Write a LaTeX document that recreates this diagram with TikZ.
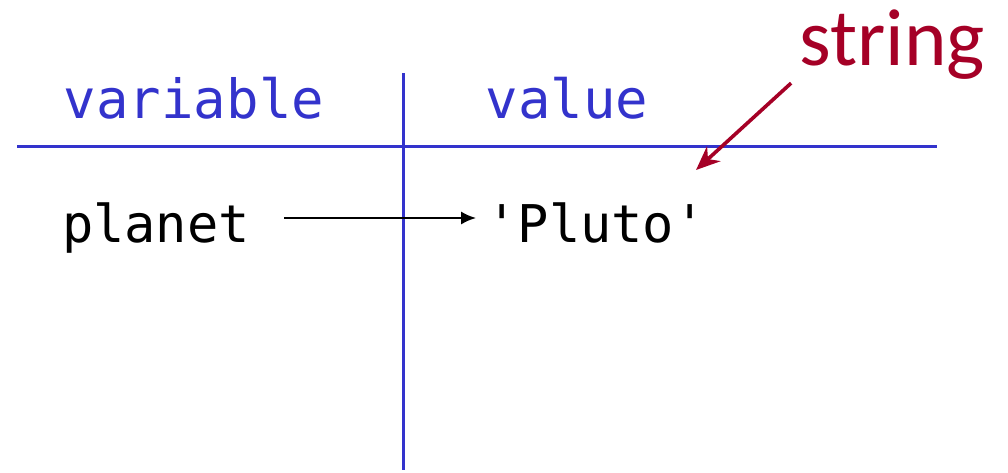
\documentclass[tikz,border=0pt]{standalone}
\usepackage{fontspec}
\setmonofont{DejaVu Sans Mono}
\newfontfamily\notefont{Carlito}
\usepackage{tikz}
\usetikzlibrary{arrows.meta, positioning}
\definecolor{tablecol}{RGB}{51,51,204}
\definecolor{notecol}{RGB}{165,0,38}
\tikzset{
  head/.style={font=\ttfamily\fontsize{54}{60}\selectfont, text=tablecol,
               inner sep=0pt, anchor=base},
  cell/.style={font=\ttfamily\fontsize{52}{60}\selectfont, text=black,
               inner sep=0pt, anchor=base},
  note/.style={font=\notefont\fontsize{81}{86}\selectfont, text=notecol,
               inner sep=0pt, anchor=base},
  rule/.style={tablecol, line width=3pt},
  bind/.style={-{Latex[length=15pt,width=13pt]}, line width=2.6pt},
  pointer/.style={-{Stealth[length=24pt,width=20pt]}, notecol, line width=3.6pt}
}

\begin{document}
\begin{tikzpicture}[x=1pt,y=1pt]
\useasboundingbox (0,0) rectangle (1008,-472);

% ── Table rules ───────────────────────────────────────────────────────────────
\draw[rule] (17,-146) -- (937,-146);
\draw[rule] (403,-73) -- (403,-470);

% ── Headers ─────────────────────────────────────────────────────────────────
\node[head] (varhead) at (194,-118) {variable};
\node[head] (valhead) at (567,-118) {value};

% ── Binding ─────────────────────────────────────────────────────────────────
\node[cell] (planet) at (156,-242) {planet};
\node[cell] (pluto)  at (596,-242) {'Pluto'};
\draw[bind, shorten <=34pt, shorten >=10pt]
     ([yshift=24pt]planet.base east) -- ([yshift=24pt]pluto.base west);

% Type note
\node[note] (strnote) at (892,-65) {string};
\coordinate (strtip) at (696,-170);
\draw[pointer] ([xshift=-8pt,yshift=-4pt]strnote.south west) -- (strtip);

\end{tikzpicture}
\end{document}
